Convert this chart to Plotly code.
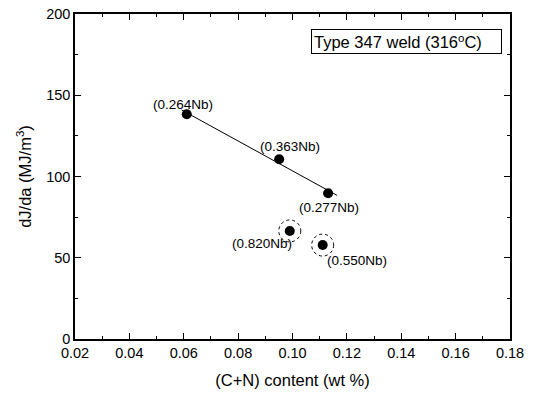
import numpy as np
import plotly.graph_objects as go

# Data
cn_content = [0.0611, 0.0951, 0.1131, 0.0990, 0.1111]
dj_da = [138.3, 110.6, 89.7, 66.5, 57.8]
labels = ["(0.264Nb)", "(0.363Nb)", "(0.277Nb)", "(0.820Nb)", "(0.550Nb)"]
fit_idx = [0, 1, 2]
circled_idx = [3, 4]
fit_x_range = [0.0592, 0.1164]
x_ticks = [0.02, 0.04, 0.06, 0.08, 0.10, 0.12, 0.14, 0.16, 0.18]
y_ticks = [0, 50, 100, 150, 200]

label_shift = [(-4, 10), (11, 12.5), (1, -14), (-27.5, -12.5), (34, -15)]

FONT = "Liberation Sans, Arial, sans-serif"

fx = np.array([cn_content[i] for i in fit_idx])
fy = np.array([dj_da[i] for i in fit_idx])
slope, intercept = np.polyfit(fx, fy, 1)
lx = np.array(fit_x_range)
ly = slope * lx + intercept

fig = go.Figure()
fig.add_trace(go.Scatter(x=lx, y=ly, mode="lines",
                         line=dict(color="black", width=1), showlegend=False))
fig.add_trace(go.Scatter(x=cn_content, y=dj_da, mode="markers",
                         marker=dict(color="black", size=10), showlegend=False))

for i in circled_idx:
    fig.add_shape(type="circle", xref="x", yref="y",
                  xsizemode="pixel", ysizemode="pixel",
                  xanchor=cn_content[i], yanchor=dj_da[i],
                  x0=-11, x1=11, y0=-11, y1=11,
                  line=dict(color="black", width=1, dash="dot"))

for i, t in enumerate(labels):
    fig.add_annotation(x=cn_content[i], y=dj_da[i], text=t, showarrow=False,
                       xshift=label_shift[i][0], yshift=label_shift[i][1],
                       font=dict(family=FONT, size=13.5, color="black"))

# legend-like box
fig.add_annotation(xref="paper", yref="paper", x=0.981, y=0.9145,
                   xanchor="right", yanchor="middle",
                   text="Type 347 weld (316<sup>o</sup>C)", showarrow=False,
                   font=dict(family=FONT, size=16.5, color="black"),
                   bordercolor="black", borderwidth=1, borderpad=2,
                   bgcolor="white", width=185, height=19, align="left")

axis_common = dict(showgrid=False, zeroline=False, showline=True, linecolor="black",
                   linewidth=1.5, mirror="ticks", ticks="inside", ticklen=6,
                   tickcolor="black", tickwidth=1, automargin=False,
                   tickfont=dict(family=FONT, size=14.5, color="black"))

fig.update_xaxes(range=[0.02, 0.18], tickvals=x_ticks,
                 ticktext=[f"{v:.2f}" for v in x_ticks],
                 minor=dict(dtick=0.01, ticks="inside", ticklen=3, tickcolor="black"),
                 title=dict(text="(C+N) content (wt %)", standoff=14,
                            font=dict(family=FONT, size=16.5, color="black")),
                 **axis_common)
fig.update_yaxes(range=[0, 200], tickvals=y_ticks,
                 minor=dict(dtick=25, ticks="inside", ticklen=3, tickcolor="black"),
                 title=dict(text="dJ/da (MJ/m<sup>3</sup>)", standoff=10,
                            font=dict(family=FONT, size=16.5, color="black")),
                 **axis_common)

fig.update_layout(width=535, height=394, margin=dict(l=75, r=25, t=14, b=55),
                  plot_bgcolor="white", paper_bgcolor="white")

fig.write_html("out.html")
